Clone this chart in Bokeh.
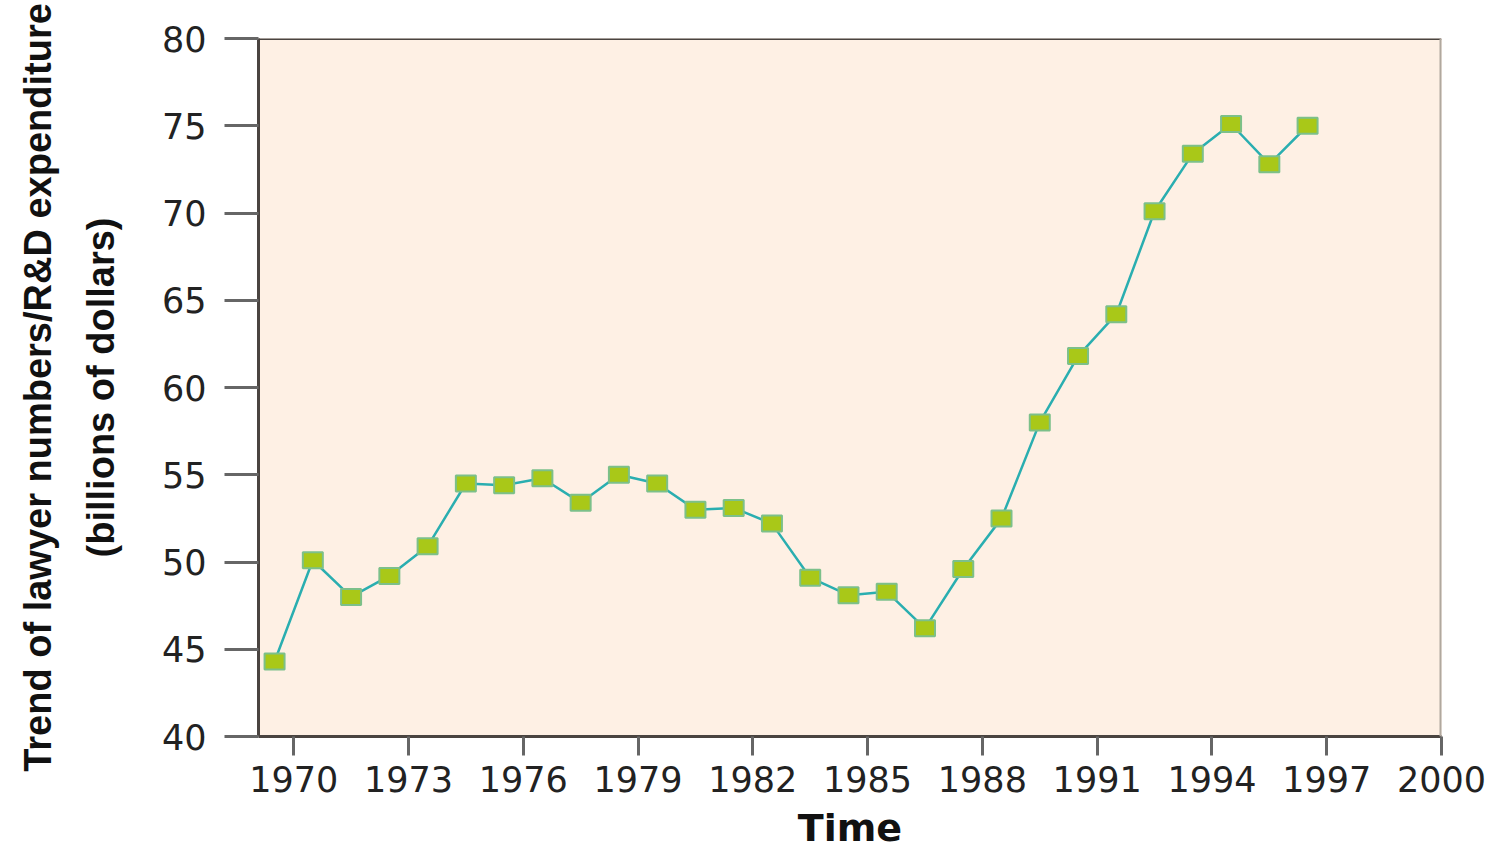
from bokeh.plotting import figure
from bokeh.models import FixedTicker, Range1d, Span
from bokeh.embed import file_html
from bokeh.resources import INLINE

years = [1969.5 + i for i in range(28)]
values = [44.3, 50.1, 48.0, 49.2, 50.9, 54.5, 54.4, 54.8, 53.4, 55.0,
          54.5, 53.0, 53.1, 52.2, 49.1, 48.1, 48.3, 46.2, 49.6, 52.5,
          58.0, 61.8, 64.2, 70.1, 73.4, 75.1, 72.8, 75.0]
x_ticks = [1970, 1973, 1976, 1979, 1982, 1985, 1988, 1991, 1994, 1997, 2000]
y_ticks = [40, 45, 50, 55, 60, 65, 70, 75, 80]

p = figure(width=1490, height=854, output_backend="svg", toolbar_location=None,
           x_range=Range1d(1969.08, 2000), y_range=Range1d(40, 80),
           min_border_left=258, min_border_right=49, min_border_top=38,
           min_border_bottom=118)
p.background_fill_color = "#fef0e4"
p.border_fill_color = "white"
p.outline_line_color = None
p.xgrid.visible = False
p.ygrid.visible = False

p.line(years, values, line_color="#2aaeb0", line_width=2.5)
p.rect(years, values, width=20, height=16, width_units="screen", height_units="screen",
       fill_color="#a9c818", line_color="#7cc08a", line_width=2)

p.add_layout(Span(location=80, dimension="width", line_color="#4a4440", line_width=3))
p.add_layout(Span(location=2000, dimension="height", line_color="#b0a89e", line_width=4))

for ax in (p.xaxis[0], p.yaxis[0]):
    ax.axis_line_color = "#4a4440"
    ax.axis_line_width = 3
    ax.major_tick_line_color = "#666666"
    ax.major_tick_line_width = 3
    ax.major_tick_in = 0
    ax.minor_tick_line_color = None
    ax.major_label_text_font = "DejaVu Sans"
    ax.major_label_text_font_size = "35px"
    ax.major_label_text_color = "#222222"

p.xaxis.ticker = FixedTicker(ticks=x_ticks)
p.yaxis.ticker = FixedTicker(ticks=y_ticks)
p.xaxis.major_tick_out = 19
p.yaxis.major_tick_out = 34
p.xaxis.major_label_standoff = 10
p.yaxis.major_label_standoff = 18

p.xaxis.axis_label = "Time"
p.xaxis.axis_label_text_font = "DejaVu Sans"
p.xaxis.axis_label_text_font_style = "bold"
p.xaxis.axis_label_text_font_size = "38px"
p.xaxis.axis_label_text_color = "#111111"
p.xaxis.axis_label_standoff = 11

p.yaxis.axis_label = "Trend of lawyer numbers/R&D expenditure\n(billions of dollars)"
p.yaxis.axis_label_text_font = "Liberation Sans"
p.yaxis.axis_label_text_font_style = "bold"
p.yaxis.axis_label_text_font_size = "38px"
p.yaxis.axis_label_text_color = "#111111"
p.yaxis.axis_label_text_line_height = 1.5
p.yaxis.axis_label_standoff = 37

open("out.html", "w").write(file_html(p, INLINE))
